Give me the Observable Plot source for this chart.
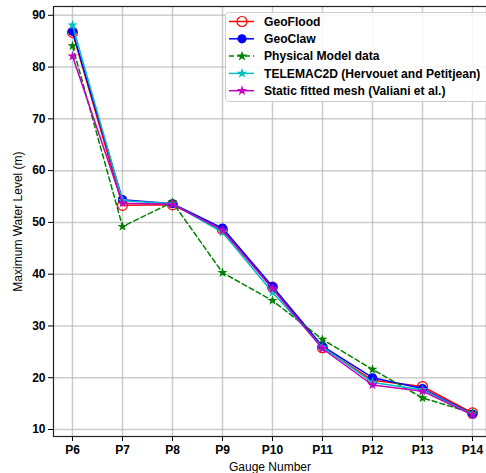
<!DOCTYPE html>
<html><head><meta charset="utf-8">
<script src="https://cdn.jsdelivr.net/npm/d3@7"></script>
<script src="https://cdn.jsdelivr.net/npm/@observablehq/plot@0.6"></script>
<style>
body{margin:0;background:#fff;}
#wrap{position:relative;width:486px;height:473px;overflow:hidden;font-family:"Liberation Sans",Arial,sans-serif;}
#legend{position:absolute;left:225px;top:12px;}
</style>
</head><body><div id="wrap"></div>
<script>
const gauges = ["P6","P7","P8","P9","P10","P11","P12","P13","P14"];
const geoflood = [86.7, 53.3, 53.4, 48.6, 37.5, 25.8, 19.5, 18.3, 13.2];
const geoclaw  = [86.9, 54.4, 53.6, 48.9, 37.6, 26.1, 20.0, 17.9, 13.0];
const physical = [84.1, 49.2, 53.9, 40.3, 34.9, 27.4, 21.6, 16.1, 13.2];
const telemac  = [88.1, 54.2, 53.6, 48.1, 36.5, 25.9, 19.1, 17.7, 12.9];
const staticMesh = [82.1, 53.7, 53.5, 48.5, 37.2, 25.6, 18.6, 17.4, 12.8];
const yTicks = [10, 20, 30, 40, 50, 60, 70, 80, 90];

const series = [
  {name:"GeoFlood", values:geoflood, color:"#ff0000", dash:null, symbol:"circle", fill:"none", r:5},
  {name:"GeoClaw", values:geoclaw, color:"#0000ff", dash:null, symbol:"circle", fill:"#0000ff", r:4},
  {name:"Physical Model data", values:physical, color:"#008000", dash:"5,3", symbol:"star", fill:"#008000", r:2},
  {name:"TELEMAC2D (Hervouet and Petitjean)", values:telemac, color:"#00bfbf", dash:null, symbol:"star", fill:"#00bfbf", r:2},
  {name:"Static fitted mesh (Valiani et al.)", values:staticMesh, color:"#bf00bf", dash:null, symbol:"star", fill:"#bf00bf", r:2}
];
const rows = series.flatMap(s => s.values.map((v,i) => ({series:s.name, gauge:gauges[i], value:v})));

const font = "'Liberation Sans', Arial, sans-serif";
const marks = [
  Plot.gridX(gauges, {stroke:"#b0b0b0", strokeOpacity:0.65, strokeWidth:1.5}),
  Plot.gridY(yTicks, {stroke:"#b0b0b0", strokeOpacity:0.65, strokeWidth:1.5}),
  Plot.axisX({tickSize:5, fontSize:12, fontWeight:"bold", label:null, tickPadding:4}),
  Plot.axisX({ticks:[], tickSize:0, fontSize:12, label:"Gauge Number", labelAnchor:"center", labelArrow:"none", labelOffset:34}),
  Plot.axisY(yTicks, {tickSize:5, fontSize:12, fontWeight:"bold", label:null, tickPadding:3}),
  Plot.axisY({ticks:[], tickSize:0, fontSize:12, label:"Maximum Water Level (m)", labelAnchor:"center", labelArrow:"none", labelOffset:40}),
];
for (const s of series) {
  const d = rows.filter(r => r.series === s.name);
  marks.push(Plot.line(d, {x:"gauge", y:"value", stroke:s.color, strokeWidth:1.5, strokeDasharray:s.dash}));
  marks.push(Plot.dot(d, {x:"gauge", y:"value", stroke:s.color, fill:s.fill, symbol:s.symbol, r:s.r, strokeWidth:1.2}));
}
marks.push(Plot.frame({stroke:"#222", strokeWidth:1.2}));

const chart = Plot.plot({
  width: 486, height: 473,
  marginLeft: 53, marginTop: 6, marginBottom: 37, marginRight: 0,
  style:{fontFamily:font, fontSize:"12px", color:"#000", background:"#fff", overflow:"hidden"},
  x:{type:"point", domain:gauges, range:[47, 497], round:false},
  y:{domain:[8.65, 91.7], range:[436, 6]},
  marks
});
const wrap = document.getElementById("wrap");
wrap.appendChild(chart);

// legend overlay
const lg = d3.select(wrap).append("svg").attr("id","legend").attr("width",261).attr("height",92);
lg.append("rect").attr("x",0.5).attr("y",0.5).attr("width",275).attr("height",89).attr("rx",3)
  .attr("fill","rgba(255,255,255,0.85)").attr("stroke","#ccc");
series.forEach((s,i) => {
  const y = 9.5 + i*17.3;
  const g = lg.append("g");
  g.append("line").attr("x1",4).attr("x2",29).attr("y1",y).attr("y2",y)
    .attr("stroke",s.color).attr("stroke-width",1.5).attr("stroke-dasharray",s.dash);
  const sym = s.symbol === "circle" ? d3.symbolCircle : d3.symbolStar;
  const area = s.symbol === "circle" ? Math.PI*s.r*s.r : 14;
  g.append("path").attr("d", d3.symbol(sym, area)())
    .attr("transform",`translate(17,${y})`).attr("fill",s.fill).attr("stroke",s.color).attr("stroke-width",1.2);
  g.append("text").attr("x",39).attr("y",y).attr("dy","0.35em").attr("font-size",12.1).attr("font-weight","bold")
    .attr("font-family",font).text(s.name);
});
</script>
</body></html>
